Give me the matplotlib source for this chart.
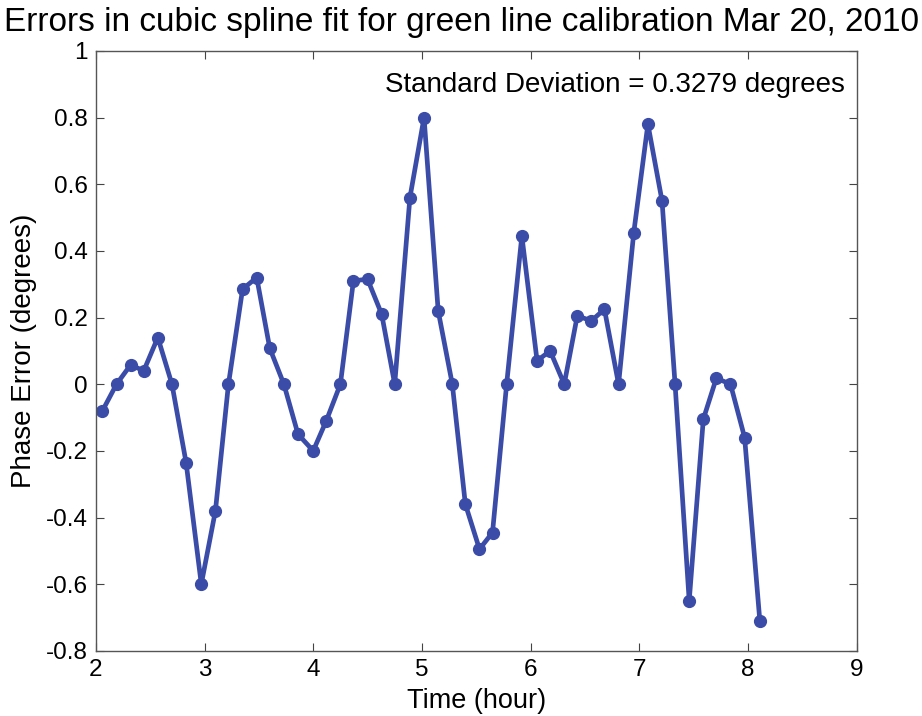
import matplotlib
matplotlib.use("Agg")
import matplotlib.pyplot as plt

plt.rcParams['font.family'] = ['Liberation Sans', 'DejaVu Sans']

# time (hour) and phase error (degrees)
time_hr = [2.06, 2.19, 2.32, 2.44, 2.57, 2.70, 2.83, 2.97, 3.10, 3.22,
           3.35, 3.48, 3.60, 3.73, 3.86, 4.00, 4.12, 4.25, 4.37, 4.50,
           4.63, 4.75, 4.89, 5.02, 5.15, 5.28, 5.40, 5.53, 5.65, 5.78,
           5.92, 6.06, 6.18, 6.31, 6.43, 6.56, 6.68, 6.81, 6.95, 7.08,
           7.21, 7.33, 7.46, 7.59, 7.71, 7.84, 7.97, 8.11]
phase_err = [-0.08, 0.0, 0.058, 0.04, 0.14, 0.0, -0.235, -0.60, -0.38, 0.0,
             0.285, 0.32, 0.108, 0.0, -0.15, -0.20, -0.11, 0.0, 0.31, 0.315,
             0.21, 0.0, 0.56, 0.80, 0.22, 0.0, -0.36, -0.495, -0.445, 0.0,
             0.445, 0.07, 0.10, 0.0, 0.205, 0.19, 0.225, 0.0, 0.455, 0.78,
             0.55, 0.0, -0.65, -0.105, 0.018, 0.0, -0.16, -0.71]

xticks = [2, 3, 4, 5, 6, 7, 8, 9]
yticks = [-0.8, -0.6, -0.4, -0.2, 0, 0.2, 0.4, 0.6, 0.8, 1]
ytick_labels = ["-0.8", "-0.6", "-0.4", "-0.2", "0", "0.2", "0.4", "0.6", "0.8", "1"]

fig = plt.figure(figsize=(9.22, 7.16), dpi=100)
ax = fig.add_axes([0.104, 0.091, 0.825, 0.838])

ax.plot(time_hr, phase_err, color="#3a4ca8", linewidth=3.4,
        marker="o", markersize=8.5)

ax.set_xlim(2, 9)
ax.set_ylim(-0.8, 1)
ax.set_xticks(xticks)
ax.set_xticklabels([str(t) for t in xticks])
ax.set_yticks(yticks)
ax.set_yticklabels(ytick_labels)
ax.tick_params(direction="in", top=True, right=True, length=6,
               labelsize=17.5, color="#444444", pad=6)
for s in ax.spines.values():
    s.set_color("#555555")
    s.set_linewidth(1.0)

# title centred on the figure, like the original
fig.text(0.5, 0.968, "Errors in cubic spline fit for green line calibration Mar 20, 2010",
         ha="center", va="center", fontsize=24)
ax.set_xlabel("Time (hour)", fontsize=19.5, labelpad=5)
ax.set_ylabel("Phase Error (degrees)", fontsize=20, labelpad=6)
ax.text(0.985, 0.943, "Standard Deviation = 0.3279 degrees",
        transform=ax.transAxes, ha="right", va="center", fontsize=20)

fig.savefig("out.png", dpi=100)
